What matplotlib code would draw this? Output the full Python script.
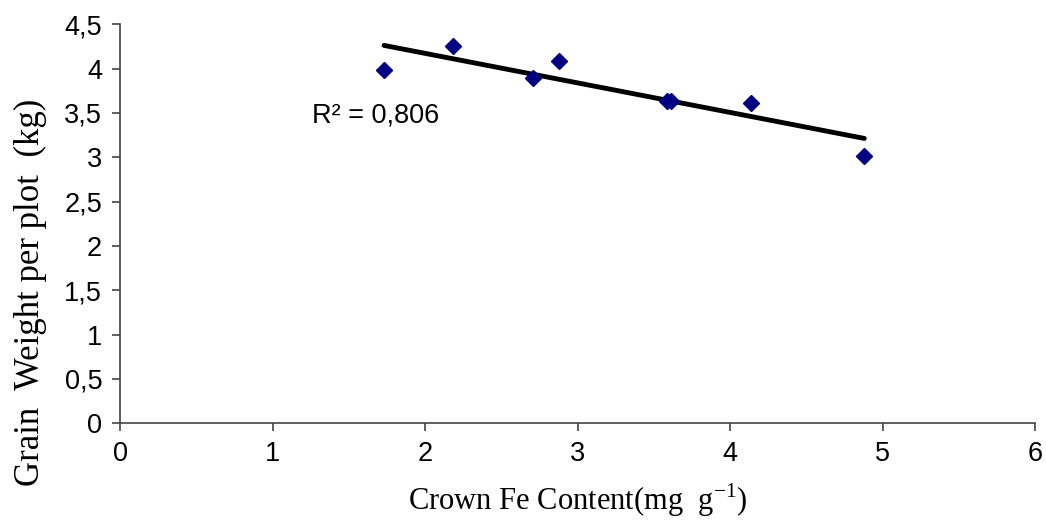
import numpy as np
import matplotlib
matplotlib.use("Agg")
import matplotlib.pyplot as plt

# данные
fe_content = [1.73, 2.18, 2.71, 2.88, 3.585, 3.615, 4.14, 4.88]
grain_weight = [3.99, 4.26, 3.90, 4.09, 3.64, 3.64, 3.61, 3.01]
x_ticks = [0, 1, 2, 3, 4, 5, 6]
y_ticks = [0, 0.5, 1, 1.5, 2, 2.5, 3, 3.5, 4, 4.5]
r2_text = "R² = 0,806"

plt.rcParams['mathtext.fontset'] = 'custom'
plt.rcParams['mathtext.rm'] = 'Liberation Serif'

fig = plt.figure(figsize=(10.46, 5.25), dpi=100)
ax = fig.add_axes([0.115, 0.1937, 0.8745, 0.76])

ax.plot(fe_content, grain_weight, linestyle='none', marker='D',
        markersize=8, color='#000080', zorder=3)

# линия тренда
k, b = np.polyfit(fe_content, grain_weight, 1)
xs = np.array([min(fe_content), max(fe_content)])
ax.plot(xs, k * xs + b, color='black', linewidth=3.5, solid_capstyle='round', zorder=2)

ax.text(1.26, 3.47, r2_text, fontsize=19.5, family='Liberation Sans', va='center')

ax.set_xlim(0, 6)
ax.set_ylim(0, 4.5)
ax.set_xticks(x_ticks)
ax.set_yticks(y_ticks)
ax.set_xticklabels([str(v) for v in x_ticks], family='Liberation Sans', fontsize=19.5)
ax.set_yticklabels([str(v).replace('.', ',') if v % 1 else str(int(v)) for v in y_ticks],
                   family='Liberation Sans', fontsize=19.5)

for side in ['top', 'right']:
    ax.spines[side].set_visible(False)
for side in ['left', 'bottom']:
    ax.spines[side].set_color('#444444')
    ax.spines[side].set_linewidth(1.2)
ax.tick_params(direction='out', length=6, width=1.2, color='#444444', pad=7)

ax.set_xlabel(r"Crown Fe Content(mg  g$^{\mathregular{-1}}$)", family='Liberation Serif',
              fontsize=22, labelpad=10)
ax.set_ylabel("Grain  Weight per plot  (kg)", family='Liberation Serif', fontsize=25)
ax.yaxis.set_label_coords(-0.080, 0.327)

fig.savefig("out.png", dpi=100)
